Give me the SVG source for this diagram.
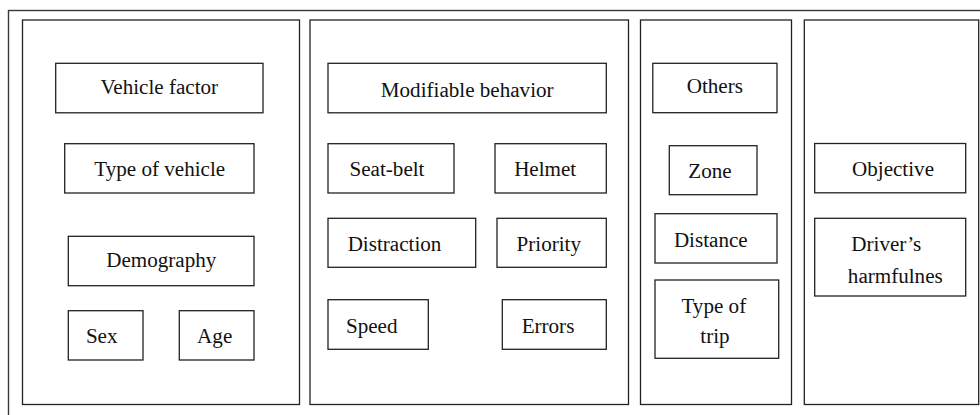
<svg xmlns="http://www.w3.org/2000/svg" width="980" height="415" viewBox="0 0 980 415">
<style>
.frame{fill:none;stroke:#3a3a3a;stroke-width:1.4}
.panel{fill:#fff;stroke:#222;stroke-width:1.3}
.box{fill:#fff;stroke:#222;stroke-width:1.3}
.t{font-size:21.1px;fill:#111;text-anchor:middle}
</style>
<rect width="980" height="415" fill="#fff"/>
<rect class="frame" x="8.5" y="10.5" width="1000" height="500"/>
<g id="panel-1"><rect class="panel" x="22.5" y="20" width="277" height="384.5"/></g>
<g id="panel-2"><rect class="panel" x="310" y="20" width="318.5" height="384.5"/></g>
<g id="panel-3"><rect class="panel" x="640.5" y="20" width="151" height="384.5"/></g>
<g id="panel-4"><rect class="panel" x="804.3" y="20" width="174.4" height="384.5"/></g>
<g id="connectors"></g>
<g class="t" font-family="'Liberation Serif', 'DejaVu Serif', serif">
<g id="vehicle-factor"><rect class="box" x="55.7" y="63.3" width="207.3" height="49.5"/><text x="159.3" y="94">Vehicle factor</text></g>
<g id="type-of-vehicle"><rect class="box" x="64.7" y="143.7" width="189.3" height="49.3"/><text x="159.7" y="175.5">Type of vehicle</text></g>
<g id="demography"><rect class="box" x="68.3" y="236.3" width="185.7" height="49.4"/><text x="161.3" y="266.7">Demography</text></g>
<g id="sex"><rect class="box" x="68.3" y="310.7" width="74.7" height="49.3"/><text x="101.7" y="343.3">Sex</text></g>
<g id="age"><rect class="box" x="179.3" y="310.7" width="74.7" height="49.3"/><text x="214.7" y="343.3">Age</text></g>
<g id="modifiable-behavior"><rect class="box" x="328" y="63.3" width="278.3" height="49.5"/><text x="467.2" y="96.5">Modifiable behavior</text></g>
<g id="seat-belt"><rect class="box" x="328" y="143.7" width="126" height="49.3"/><text x="387" y="176">Seat-belt</text></g>
<g id="helmet"><rect class="box" x="495" y="143.7" width="111.3" height="49.3"/><text x="545.2" y="176">Helmet</text></g>
<g id="distraction"><rect class="box" x="328" y="218.3" width="147.7" height="49"/><text x="394.5" y="250.7">Distraction</text></g>
<g id="priority"><rect class="box" x="497" y="218.3" width="109.3" height="49"/><text x="548.8" y="250.7">Priority</text></g>
<g id="speed"><rect class="box" x="328" y="299.7" width="100.3" height="49.6"/><text x="371.7" y="332.7">Speed</text></g>
<g id="errors"><rect class="box" x="502.3" y="299.7" width="104" height="49.6"/><text x="548" y="332.7">Errors</text></g>
<g id="others"><rect class="box" x="652.8" y="63.3" width="124.2" height="49.4"/><text x="714.8" y="93.3">Others</text></g>
<g id="zone"><rect class="box" x="669.3" y="145.7" width="87.7" height="49"/><text x="710" y="178.3">Zone</text></g>
<g id="distance"><rect class="box" x="655" y="213.7" width="122" height="49.3"/><text x="710.8" y="246.7">Distance</text></g>
<g id="type-of-trip"><rect class="box" x="655" y="280" width="123.7" height="78.3"/><text x="713.8" y="313.3">Type of</text><text x="715" y="343.3">trip</text></g>
<g id="objective"><rect class="box" x="814.7" y="143.5" width="151" height="49.3"/><text x="893" y="176">Objective</text></g>
<g id="drivers-harmfulnes"><rect class="box" x="814.7" y="218.3" width="151" height="77.7"/><text x="886.3" y="250.7">Driver’s</text><text x="895.3" y="282.7">harmfulnes</text></g>
</g>
</svg>
